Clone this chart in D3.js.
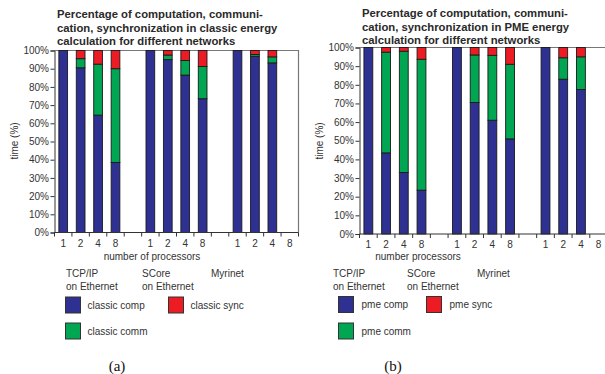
<!DOCTYPE html>
<html>
<head>
<meta charset="utf-8">
<script src="https://cdn.jsdelivr.net/npm/d3@7"></script>
<style>
  body { margin: 0; background: #fff; }
  svg text { font-family: "Liberation Sans", Arial, Helvetica, sans-serif; fill: #333; }
  .title { font-weight: bold; font-size: 11.3px; fill: #2a2a2a; }
  .caption { font-family: "Liberation Serif", "Times New Roman", serif; font-size: 15px; fill: #111; }
</style>
</head>
<body>
<div id="vis"></div>
<script>
// categories
const networks = ["TCP/IP", "SCore", "Myrinet"];
const procs = ["1", "2", "4", "8"];
const networkLabels = [["TCP/IP", "on Ethernet"], ["SCore", "on Ethernet"], ["Myrinet"]];
const yTicks = [0, 10, 20, 30, 40, 50, 60, 70, 80, 90, 100];

// classic energy calculation (% of time), one value per network x processors, null = no run
const classicComp = [100, 90.5, 64.5, 38.5,  100, 95, 86.5, 73.5,  100, 96.8, 93.2, null];
const classicComm = [0, 5, 28, 51.5,          0, 2.5, 8, 17.7,       0, 1, 3.3, null];
const classicSync = [0, 4.5, 7.5, 10,         0, 2.5, 5.5, 8.8,      0, 2.2, 3.5, null];

// PME energy calculation
const pmeComp = [100, 43.5, 33, 23.5,  100, 70.5, 61, 51,      100, 83, 77.5, null];
const pmeComm = [0, 54, 65, 70.2,      0, 25.5, 34.8, 40,      0, 11.5, 17.5, null];
const pmeSync = [0, 2.5, 2, 6.3,       0, 4, 4.2, 9,           0, 5.5, 5, null];

const colours = { comp: "#2e3192", comm: "#00a651", sync: "#ed1c24" };

const svg = d3.select("#vis").append("svg")
    .attr("width", 605)
    .attr("height", 374);

/**
 * builds the 14 slots of the x axis: 4 bars per network and one empty slot between networks
 */
function buildRows(comp, comm, sync){
    let rows = [];
    networks.forEach(function(net, n){
        procs.forEach(function(p, i){
            let k = n * procs.length + i;
            rows.push({ slot: net + "-" + p, label: p, comp: comp[k], comm: comm[k], sync: sync[k] });
        });
        if (n < networks.length - 1){
            rows.push({ slot: "gap" + n, label: "", comp: null, comm: null, sync: null });
        }
    });
    return rows;
}

function drawPanel(opt){
    let g = svg.append("g");
    let rows = buildRows(opt.comp, opt.comm, opt.sync);

    let x = d3.scaleBand()
        .domain(rows.map(function(d){ return d.slot; }))
        .range([opt.left, opt.right]);
    let y = d3.scaleLinear().domain([0, 100]).range([opt.bottom, opt.top]);

    // title
    g.append("text").attr("class", "title")
        .selectAll("tspan").data(opt.title).enter()
        .append("tspan")
        .attr("x", opt.left + 2.5)
        .attr("y", function(d, i){ return opt.titleY + i * 13.5; })
        .text(function(d){ return d; });

    // frame top / right
    g.append("path")
        .attr("d", "M" + opt.left + "," + opt.top + "H" + opt.right + "V" + opt.bottom)
        .attr("fill", "none").attr("stroke", "#777").attr("stroke-width", 1.2);

    // stacked bars
    let stack = d3.stack().keys(["comp", "comm", "sync"]);
    let data = rows.filter(function(d){ return d.comp != null; });
    let series = stack(data);
    let bw = x.bandwidth() * 0.5;

    g.selectAll(".series").data(series).enter()
        .append("g")
        .attr("fill", function(s){ return colours[s.key]; })
        .selectAll("rect")
        .data(function(s){ return s.filter(function(d){ return d[1] - d[0] > 0; }); })
        .enter().append("rect")
        .attr("x", function(d){ return x(d.data.slot) + (x.bandwidth() - bw) / 2; })
        .attr("width", bw)
        .attr("y", function(d){ return y(d[1]); })
        .attr("height", function(d){ return y(d[0]) - y(d[1]); })
        .attr("stroke", "#1a1a1a").attr("stroke-width", 0.9);

    // y axis, major + minor ticks
    let yAxis = g.append("g").attr("transform", "translate(" + opt.left + ",0)");
    yAxis.call(d3.axisLeft(y).tickValues(d3.range(0, 101, 2)).tickSize(2).tickFormat(""));
    yAxis.call(d3.axisLeft(y).tickValues(yTicks).tickSize(4).tickPadding(1.5)
        .tickFormat(function(d){ return d + "%"; }));
    yAxis.selectAll("text").style("font-size", "10px").attr("fill", "#333");
    yAxis.selectAll("line, path").attr("stroke", "#333");

    // x axis: ticks on slot boundaries, labels on slot centres
    let bounds = x.domain().map(function(s){ return x(s); }).concat([opt.right]);
    g.append("line")
        .attr("x1", opt.left).attr("x2", opt.right)
        .attr("y1", opt.bottom).attr("y2", opt.bottom)
        .attr("stroke", "#333");
    g.selectAll(".xtick").data(bounds).enter()
        .append("line")
        .attr("x1", function(d){ return d; }).attr("x2", function(d){ return d; })
        .attr("y1", opt.bottom).attr("y2", opt.bottom + 4)
        .attr("stroke", "#333");
    g.selectAll(".xlab").data(rows.filter(function(d){ return d.label !== ""; })).enter()
        .append("text")
        .attr("x", function(d){ return x(d.slot) + x.bandwidth() / 2; })
        .attr("y", opt.bottom + 14)
        .attr("text-anchor", "middle")
        .style("font-size", "10px")
        .text(function(d){ return d.label; });

    g.append("text")
        .attr("x", opt.xLabelX).attr("y", 259.5)
        .attr("text-anchor", "middle")
        .style("font-size", "10px")
        .text(opt.xLabel);

    g.append("text")
        .attr("transform", "translate(" + opt.yLabelX + "," + 141 + ") rotate(-90)")
        .attr("text-anchor", "middle")
        .style("font-size", "10px")
        .text("time (%)");

    // network names under the axis
    networkLabels.forEach(function(lines, n){
        g.append("text")
            .selectAll("tspan").data(lines).enter()
            .append("tspan")
            .attr("x", opt.netX[n])
            .attr("y", function(d, i){ return 277 + i * 13; })
            .style("font-size", "10px")
            .text(function(d){ return d; });
    });

    // legend
    let legend = g.selectAll(".legend").data(opt.legend).enter()
        .append("g")
        .attr("transform", function(d){ return "translate(" + d.x + "," + d.y + ")"; });
    legend.append("rect")
        .attr("width", 15).attr("height", 16)
        .attr("fill", function(d){ return colours[d.key]; })
        .attr("stroke", "#333").attr("stroke-width", 1);
    legend.append("text")
        .attr("x", opt.legendGap).attr("y", 11.5)
        .style("font-size", "10px")
        .text(function(d){ return d.text; });

    g.append("text").attr("class", "caption")
        .attr("x", opt.captionX).attr("y", 371)
        .attr("text-anchor", "middle")
        .text(opt.caption);
}

drawPanel({
    comp: classicComp, comm: classicComm, sync: classicSync,
    left: 54.5, right: 298.5, top: 50.5, bottom: 232.5,
    title: ["Percentage of computation, communi-", "cation, synchronization in classic energy", "calculation for different networks"],
    titleY: 18,
    xLabel: "number of processors", xLabelX: 152,
    yLabelX: 18,
    netX: [66, 142, 211],
    legend: [
        { key: "comp", text: "classic comp", x: 65.5, y: 297 },
        { key: "sync", text: "classic sync", x: 168.5, y: 297 },
        { key: "comm", text: "classic comm", x: 65.5, y: 323 }
    ],
    legendGap: 22,
    caption: "(a)", captionX: 117
});

drawPanel({
    comp: pmeComp, comm: pmeComm, sync: pmeSync,
    left: 359.5, right: 607.5, top: 47.5, bottom: 234,
    title: ["Percentage of computation, communi-", "cation, synchronization in PME energy", "calculation for different networks"],
    titleY: 17,
    xLabel: "number processors", xLabelX: 418,
    yLabelX: 323,
    netX: [333, 407, 477],
    legend: [
        { key: "comp", text: "pme comp", x: 338.5, y: 296.5 },
        { key: "sync", text: "pme sync", x: 426.5, y: 296.5 },
        { key: "comm", text: "pme comm", x: 338.5, y: 323 }
    ],
    legendGap: 23,
    caption: "(b)", captionX: 393
});
</script>
</body>
</html>
